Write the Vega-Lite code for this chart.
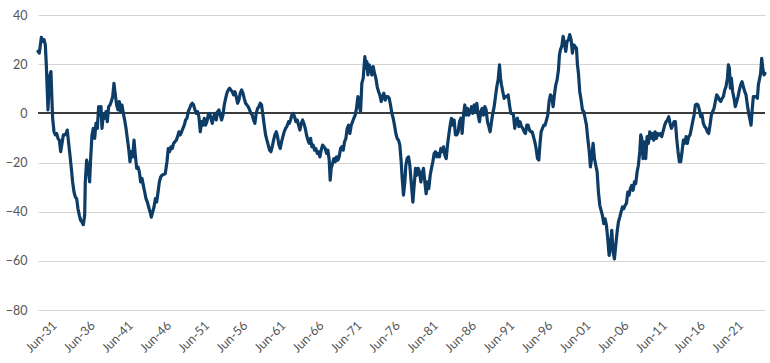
{
  "$schema": "https://vega.github.io/schema/vega-lite/v6.json",
  "autosize": {"type": "none"},
  "padding": {"left": 38, "top": 15, "right": 5, "bottom": 53},
  "width": 727,
  "height": 295,
  "background": "white",
  "config": {
    "view": {"stroke": null},
    "font": "Lato",
    "axis": {"labelFont": "Lato", "labelFontSize": 12.5, "labelFontWeight": "normal", "labelColor": "#555555", "domain": false, "ticks": false, "title": null}
  },
  "data": {"values": [
    {"t":1929.36,"v":25.2},{"t":1929.53,"v":24.5},{"t":1929.80,"v":30.9},{"t":1929.97,"v":29.3},{"t":1930.15,"v":30},{"t":1930.32,"v":27.9},{"t":1930.45,"v":19.7},{"t":1930.58,"v":8.8},{"t":1930.67,"v":1.4},{"t":1930.80,"v":10.2},{"t":1930.93,"v":15.6},{"t":1931.06,"v":17},{"t":1931.15,"v":8.8},{"t":1931.28,"v":-2},{"t":1931.46,"v":-7.5},{"t":1931.63,"v":-8.8},{"t":1931.81,"v":-8.2},{"t":1931.98,"v":-10.2},{"t":1932.16,"v":-10.9},{"t":1932.33,"v":-15.6},{"t":1932.51,"v":-12.2},{"t":1932.68,"v":-8.8},{"t":1932.85,"v":-8.8},{"t":1933.03,"v":-8.2},{"t":1933.20,"v":-6.8},{"t":1933.38,"v":-12.2},{"t":1933.55,"v":-17},{"t":1933.73,"v":-22.4},{"t":1933.90,"v":-27.9},{"t":1934.08,"v":-32},{"t":1934.25,"v":-34},{"t":1934.43,"v":-34.7},{"t":1934.60,"v":-38.8},{"t":1934.78,"v":-41.5},{"t":1934.95,"v":-43.5},{"t":1935.13,"v":-44.2},{"t":1935.30,"v":-45.3},{"t":1935.48,"v":-41.5},{"t":1935.56,"v":-27.9},{"t":1935.74,"v":-19},{"t":1935.87,"v":-21.1},{"t":1936.00,"v":-23.8},{"t":1936.13,"v":-27.9},{"t":1936.26,"v":-18.4},{"t":1936.44,"v":-8.8},{"t":1936.61,"v":-6.1},{"t":1936.79,"v":-10.2},{"t":1936.96,"v":-4.1},{"t":1937.14,"v":-6.1},{"t":1937.31,"v":2.7},{"t":1937.44,"v":-0.7},{"t":1937.62,"v":2.7},{"t":1937.75,"v":-6.1},{"t":1937.92,"v":-0.7},{"t":1938.10,"v":-2},{"t":1938.27,"v":0.7},{"t":1938.45,"v":-3.4},{"t":1938.62,"v":2.7},{"t":1938.80,"v":3.4},{"t":1938.97,"v":4.8},{"t":1939.15,"v":6.8},{"t":1939.32,"v":12.2},{"t":1939.50,"v":7.5},{"t":1939.67,"v":3.4},{"t":1939.85,"v":1.4},{"t":1940.02,"v":4.8},{"t":1940.20,"v":0.7},{"t":1940.37,"v":3.4},{"t":1940.55,"v":0},{"t":1940.72,"v":-2.7},{"t":1940.90,"v":-6.1},{"t":1941.07,"v":-10.2},{"t":1941.25,"v":-14.3},{"t":1941.42,"v":-19.7},{"t":1941.60,"v":-15.6},{"t":1941.77,"v":-17.7},{"t":1941.95,"v":-10.9},{"t":1942.12,"v":-17},{"t":1942.30,"v":-22.4},{"t":1942.47,"v":-21.8},{"t":1942.65,"v":-23.8},{"t":1942.82,"v":-27.9},{"t":1943.00,"v":-26.5},{"t":1943.17,"v":-29.3},{"t":1943.35,"v":-32},{"t":1943.52,"v":-34.7},{"t":1943.70,"v":-36.1},{"t":1943.87,"v":-38.1},{"t":1944.05,"v":-40.1},{"t":1944.22,"v":-42.2},{"t":1944.40,"v":-40.1},{"t":1944.57,"v":-38.1},{"t":1944.75,"v":-34.7},{"t":1944.92,"v":-36.1},{"t":1945.10,"v":-32},{"t":1945.27,"v":-27.9},{"t":1945.45,"v":-25.9},
    {"t":1945.61,"v":-25.2},{"t":1946.05,"v":-24.5},{"t":1946.27,"v":-19.7},{"t":1946.44,"v":-14.3},{"t":1946.62,"v":-15.6},{"t":1946.79,"v":-13.6},{"t":1946.96,"v":-14.3},{"t":1947.14,"v":-12.2},{"t":1947.31,"v":-11.6},{"t":1947.49,"v":-10.9},{"t":1947.66,"v":-9.5},{"t":1947.84,"v":-7.5},{"t":1948.01,"v":-8.8},{"t":1948.19,"v":-7.5},{"t":1948.36,"v":-6.1},{"t":1948.54,"v":-4.8},{"t":1948.71,"v":-2.7},{"t":1948.89,"v":-2},{"t":1949.06,"v":0.7},{"t":1949.24,"v":2},{"t":1949.41,"v":3.4},{"t":1949.59,"v":4.1},{"t":1949.76,"v":3.4},{"t":1949.94,"v":1.4},{"t":1950.11,"v":0},{"t":1950.29,"v":0.7},{"t":1950.46,"v":-1.4},{"t":1950.64,"v":-7.5},{"t":1950.81,"v":-3.4},{"t":1950.98,"v":-4.8},{"t":1951.16,"v":-2},{"t":1951.33,"v":-4.8},{"t":1951.51,"v":-3.4},{"t":1951.68,"v":-0.7},{"t":1951.86,"v":0},{"t":1952.03,"v":-2},{"t":1952.21,"v":-4.1},{"t":1952.38,"v":-1.4},{"t":1952.56,"v":0},{"t":1952.73,"v":-2.7},{"t":1952.91,"v":0.7},{"t":1953.08,"v":1.4},{"t":1953.26,"v":-0.7},{"t":1953.43,"v":-2.7},{"t":1953.61,"v":-0.7},{"t":1953.78,"v":3.4},{"t":1953.96,"v":6.1},{"t":1954.13,"v":8.2},{"t":1954.30,"v":9.5},{"t":1954.48,"v":10.2},{"t":1954.65,"v":9.5},{"t":1954.83,"v":8.8},{"t":1955.00,"v":7.5},{"t":1955.18,"v":8.8},{"t":1955.35,"v":6.8},{"t":1955.53,"v":4.1},{"t":1955.70,"v":5.4},{"t":1955.88,"v":8.2},{"t":1956.05,"v":9.5},{"t":1956.23,"v":8.2},{"t":1956.40,"v":6.1},{"t":1956.58,"v":4.1},{"t":1956.75,"v":3.4},{"t":1956.93,"v":2.7},{"t":1957.10,"v":1.4},{"t":1957.28,"v":0},{"t":1957.45,"v":-0.7},{"t":1957.62,"v":-2.7},{"t":1957.80,"v":-4.1},{"t":1957.97,"v":0},{"t":1958.15,"v":2},{"t":1958.32,"v":2.7},{"t":1958.50,"v":4.1},{"t":1958.67,"v":3.4},{"t":1958.85,"v":-0.7},{"t":1959.02,"v":-4.8},{"t":1959.20,"v":-8.8},{"t":1959.37,"v":-10.9},{"t":1959.55,"v":-12.9},{"t":1959.72,"v":-15},{"t":1959.90,"v":-15.6},{"t":1960.07,"v":-13.6},{"t":1960.25,"v":-10.9},{"t":1960.42,"v":-8.8},{"t":1960.60,"v":-7.5},{"t":1960.77,"v":-9.5},{"t":1960.95,"v":-12.9},{"t":1961.12,"v":-14.3},{"t":1961.29,"v":-11.6},{"t":1961.47,"v":-9.5},{"t":1961.64,"v":-7.5},{"t":1961.82,"v":-6.1},{"t":1961.99,"v":-5.4},{"t":1962.21,"v":-3.4},
    {"t":1962.30,"v":-4.1},{"t":1962.47,"v":-2.7},{"t":1962.65,"v":-0.7},{"t":1962.82,"v":0},{"t":1963.00,"v":-1.4},{"t":1963.17,"v":-3.4},{"t":1963.35,"v":-2.7},{"t":1963.52,"v":-4.8},{"t":1963.70,"v":-6.8},{"t":1963.87,"v":-4.1},{"t":1964.05,"v":-2.7},{"t":1964.22,"v":-4.1},{"t":1964.40,"v":-6.1},{"t":1964.57,"v":-8.8},{"t":1964.75,"v":-10.9},{"t":1964.92,"v":-12.2},{"t":1965.10,"v":-10.2},{"t":1965.27,"v":-13.6},{"t":1965.44,"v":-12.9},{"t":1965.62,"v":-15},{"t":1965.79,"v":-14.3},{"t":1965.97,"v":-16.3},{"t":1966.14,"v":-15.6},{"t":1966.32,"v":-17.7},{"t":1966.49,"v":-15},{"t":1966.67,"v":-12.9},{"t":1966.84,"v":-13.6},{"t":1967.02,"v":-14.3},{"t":1967.19,"v":-16.3},{"t":1967.37,"v":-15},{"t":1967.54,"v":-19},{"t":1967.67,"v":-27.2},{"t":1967.80,"v":-22.4},{"t":1967.98,"v":-20.4},{"t":1968.15,"v":-18.4},{"t":1968.33,"v":-19.7},{"t":1968.50,"v":-17.7},{"t":1968.68,"v":-19},{"t":1968.85,"v":-17.7},{"t":1969.03,"v":-14.3},{"t":1969.20,"v":-13.6},{"t":1969.38,"v":-15},{"t":1969.55,"v":-11.6},{"t":1969.73,"v":-10.2},{"t":1969.90,"v":-6.1},{"t":1970.08,"v":-4.8},{"t":1970.25,"v":-8.2},{"t":1970.43,"v":-4.8},{"t":1970.60,"v":-3.4},{"t":1970.77,"v":-2},{"t":1970.95,"v":-0.7},{"t":1971.12,"v":2},{"t":1971.30,"v":6.8},{"t":1971.47,"v":3.4},{"t":1971.65,"v":0.7},{"t":1971.82,"v":12.2},{"t":1972.00,"v":14.3},{"t":1972.13,"v":19.7},{"t":1972.22,"v":23.1},{"t":1972.35,"v":18.4},{"t":1972.48,"v":21.1},{"t":1972.61,"v":15.6},{"t":1972.78,"v":19.7},{"t":1972.96,"v":18.4},{"t":1973.13,"v":15.6},{"t":1973.31,"v":19},{"t":1973.48,"v":16.3},{"t":1973.66,"v":14.3},{"t":1973.83,"v":10.9},{"t":1974.01,"v":8.8},{"t":1974.18,"v":7.5},{"t":1974.36,"v":4.8},{"t":1974.53,"v":6.8},{"t":1974.71,"v":8.2},{"t":1974.88,"v":5.4},{"t":1975.06,"v":6.8},{"t":1975.23,"v":6.8},{"t":1975.41,"v":6.1},{"t":1975.58,"v":3.4},{"t":1975.76,"v":0},{"t":1975.93,"v":-2},{"t":1976.10,"v":-4.8},{"t":1976.28,"v":-8.2},{"t":1976.45,"v":-10.2},{"t":1976.63,"v":-10.9},{"t":1976.80,"v":-12.9},{"t":1976.98,"v":-19.7},{"t":1977.11,"v":-26.5},{"t":1977.28,"v":-33.3},{"t":1977.46,"v":-27.9},{"t":1977.59,"v":-21.1},{"t":1977.76,"v":-18.4},{"t":1977.94,"v":-17.7},{"t":1978.11,"v":-21.1},{"t":1978.29,"v":-27.9},
    {"t":1978.51,"v":-36.1},{"t":1978.68,"v":-29.3},{"t":1978.86,"v":-22.4},{"t":1979.03,"v":-25.2},{"t":1979.21,"v":-22.4},{"t":1979.38,"v":-23.8},{"t":1979.56,"v":-27.9},{"t":1979.73,"v":-24.5},{"t":1979.90,"v":-22.4},{"t":1980.08,"v":-27.9},{"t":1980.25,"v":-32.7},{"t":1980.43,"v":-27.9},{"t":1980.60,"v":-30.6},{"t":1980.78,"v":-25.2},{"t":1980.95,"v":-22.4},{"t":1981.13,"v":-19.7},{"t":1981.30,"v":-16.3},{"t":1981.48,"v":-15.6},{"t":1981.65,"v":-17.7},{"t":1981.83,"v":-16.3},{"t":1982.00,"v":-17.7},{"t":1982.18,"v":-14.3},{"t":1982.35,"v":-15.6},{"t":1982.53,"v":-13.6},{"t":1982.70,"v":-17},{"t":1982.88,"v":-18.4},{"t":1983.05,"v":-12.9},{"t":1983.22,"v":-8.8},{"t":1983.40,"v":-4.8},{"t":1983.57,"v":-2},{"t":1983.75,"v":-4.8},{"t":1983.92,"v":-2.7},{"t":1984.10,"v":-8.8},{"t":1984.27,"v":-8.8},{"t":1984.45,"v":-7.5},{"t":1984.62,"v":-3.4},{"t":1984.80,"v":-2},{"t":1984.97,"v":-8.2},{"t":1985.15,"v":-0.7},{"t":1985.32,"v":3.4},{"t":1985.50,"v":-0.7},{"t":1985.67,"v":2},{"t":1985.85,"v":-0.7},{"t":1986.02,"v":0.7},{"t":1986.20,"v":2.7},{"t":1986.37,"v":0},{"t":1986.55,"v":3.4},{"t":1986.72,"v":0.7},{"t":1986.89,"v":4.1},{"t":1987.07,"v":-0.7},{"t":1987.24,"v":-3.4},{"t":1987.42,"v":0.7},{"t":1987.59,"v":2},{"t":1987.77,"v":-0.7},{"t":1987.94,"v":2.7},{"t":1988.12,"v":1.4},{"t":1988.29,"v":-3.4},{"t":1988.47,"v":-5.4},{"t":1988.64,"v":-7.5},{"t":1988.82,"v":-3.4},{"t":1988.99,"v":0},{"t":1989.17,"v":2.7},{"t":1989.34,"v":6.8},{"t":1989.52,"v":10.9},{"t":1989.69,"v":13.6},{"t":1989.87,"v":19.7},{"t":1990.00,"v":14.3},{"t":1990.13,"v":11.6},{"t":1990.30,"v":8.8},{"t":1990.48,"v":6.1},{"t":1990.65,"v":6.8},{"t":1990.83,"v":6.8},{"t":1991.00,"v":7.5},{"t":1991.18,"v":3.4},{"t":1991.35,"v":0},{"t":1991.53,"v":0},{"t":1991.70,"v":-0.7},{"t":1991.87,"v":-6.1},{"t":1992.05,"v":-2.7},{"t":1992.22,"v":-2},{"t":1992.40,"v":-5.4},{"t":1992.57,"v":-3.4},{"t":1992.75,"v":-5.4},{"t":1992.92,"v":-6.1},{"t":1993.10,"v":-7.5},{"t":1993.27,"v":-8.2},{"t":1993.45,"v":-4.8},{"t":1993.62,"v":-4.8},{"t":1993.80,"v":-6.8},{"t":1993.97,"v":-7.5},{"t":1994.15,"v":-7.5},{"t":1994.32,"v":-9.5},{"t":1994.50,"v":-11.6},{"t":1994.67,"v":-14.3},{"t":1994.85,"v":-18.4},{"t":1995.02,"v":-19},{"t":1995.20,"v":-11.6},
    {"t":1995.33,"v":-7.5},{"t":1995.50,"v":-6.1},{"t":1995.68,"v":-4.8},{"t":1995.85,"v":-4.8},{"t":1996.03,"v":-2.7},{"t":1996.20,"v":-0.7},{"t":1996.37,"v":4.8},{"t":1996.55,"v":7.5},{"t":1996.72,"v":6.8},{"t":1996.90,"v":2.7},{"t":1997.07,"v":7.5},{"t":1997.25,"v":11.6},{"t":1997.42,"v":13.6},{"t":1997.60,"v":17.7},{"t":1997.73,"v":23.8},{"t":1997.86,"v":25.9},{"t":1998.03,"v":27.2},{"t":1998.21,"v":31.3},{"t":1998.38,"v":28.6},{"t":1998.56,"v":25.2},{"t":1998.73,"v":29.3},{"t":1998.91,"v":29.9},{"t":1999.08,"v":32},{"t":1999.26,"v":29.9},{"t":1999.43,"v":24.5},{"t":1999.61,"v":27.9},{"t":1999.78,"v":27.2},{"t":1999.96,"v":26.5},{"t":2000.09,"v":19.7},{"t":2000.22,"v":16.3},{"t":2000.39,"v":8.8},{"t":2000.57,"v":5.4},{"t":2000.74,"v":1.4},{"t":2000.92,"v":0.7},{"t":2001.09,"v":-2},{"t":2001.27,"v":-4.8},{"t":2001.44,"v":-10.2},{"t":2001.62,"v":-15},{"t":2001.79,"v":-21.8},{"t":2001.97,"v":-17.7},{"t":2002.14,"v":-12.2},{"t":2002.32,"v":-18.4},{"t":2002.49,"v":-21.1},{"t":2002.67,"v":-23.8},{"t":2002.84,"v":-32},{"t":2003.02,"v":-37.4},{"t":2003.19,"v":-39.5},{"t":2003.36,"v":-41.5},{"t":2003.54,"v":-44.9},{"t":2003.71,"v":-42.9},{"t":2003.89,"v":-45.6},{"t":2004.06,"v":-51},{"t":2004.24,"v":-57.8},{"t":2004.41,"v":-53.7},{"t":2004.59,"v":-47.6},{"t":2004.76,"v":-56.5},{"t":2004.94,"v":-59.2},{"t":2005.11,"v":-53.7},{"t":2005.29,"v":-48.3},{"t":2005.46,"v":-44.2},{"t":2005.64,"v":-42.2},{"t":2005.81,"v":-40.1},{"t":2005.99,"v":-38.1},{"t":2006.16,"v":-38.8},{"t":2006.34,"v":-37.4},{"t":2006.51,"v":-36.7},{"t":2006.69,"v":-32},{"t":2006.86,"v":-33.3},{"t":2007.03,"v":-30.6},{"t":2007.21,"v":-29.3},{"t":2007.38,"v":-31.3},{"t":2007.56,"v":-27.9},{"t":2007.73,"v":-28.6},{"t":2007.91,"v":-23.8},{"t":2008.08,"v":-21.1},{"t":2008.26,"v":-15.6},{"t":2008.39,"v":-8.8},{"t":2008.52,"v":-10.2},{"t":2008.69,"v":-18.4},{"t":2008.87,"v":-11.6},{"t":2009.04,"v":-18.4},{"t":2009.22,"v":-9.5},{"t":2009.39,"v":-12.2},{"t":2009.57,"v":-7.5},{"t":2009.74,"v":-10.2},{"t":2009.92,"v":-8.2},{"t":2010.09,"v":-10.9},{"t":2010.27,"v":-7.5},{"t":2010.44,"v":-10.2},{"t":2010.62,"v":-8.2},{"t":2010.79,"v":-8.8},{"t":2010.97,"v":-8.2},{"t":2011.14,"v":-9.5},
    {"t":2011.53,"v":-4.8},{"t":2011.71,"v":-3.4},{"t":2011.88,"v":-2.7},{"t":2012.06,"v":-1.4},{"t":2012.23,"v":-4.1},{"t":2012.41,"v":-6.1},{"t":2012.58,"v":-4.8},{"t":2012.76,"v":-3.4},{"t":2012.93,"v":-3.4},{"t":2013.10,"v":-10.2},{"t":2013.28,"v":-15.6},{"t":2013.45,"v":-19.7},{"t":2013.63,"v":-19.7},{"t":2013.80,"v":-15.6},{"t":2013.98,"v":-10.9},{"t":2014.15,"v":-12.2},{"t":2014.33,"v":-9.5},{"t":2014.50,"v":-12.2},{"t":2014.68,"v":-9.5},{"t":2014.85,"v":-8.8},{"t":2015.03,"v":-6.1},{"t":2015.20,"v":-3.4},{"t":2015.38,"v":-0.7},{"t":2015.55,"v":3.4},{"t":2015.73,"v":3.7},{"t":2015.90,"v":3.4},{"t":2016.08,"v":1.4},{"t":2016.25,"v":-1.4},{"t":2016.43,"v":-0.7},{"t":2016.60,"v":-4.1},{"t":2016.77,"v":-5.4},{"t":2016.95,"v":-6.1},{"t":2017.12,"v":-7.5},{"t":2017.30,"v":-8.2},{"t":2017.47,"v":-4.8},{"t":2017.65,"v":-0.7},{"t":2017.82,"v":0.7},{"t":2018.00,"v":2},{"t":2018.17,"v":4.8},{"t":2018.35,"v":7.5},{"t":2018.52,"v":6.8},{"t":2018.70,"v":5.4},{"t":2018.87,"v":4.8},{"t":2019.05,"v":6.1},{"t":2019.22,"v":6.8},{"t":2019.40,"v":9.5},{"t":2019.57,"v":10.9},{"t":2019.75,"v":14.3},{"t":2019.88,"v":19.7},{"t":2020.01,"v":18.4},{"t":2020.14,"v":10.2},{"t":2020.27,"v":14.3},{"t":2020.44,"v":8.8},{"t":2020.62,"v":6.1},{"t":2020.79,"v":2.7},{"t":2020.97,"v":4.8},{"t":2021.14,"v":6.8},{"t":2021.32,"v":9.5},{"t":2021.49,"v":11.6},{"t":2021.67,"v":12.9},{"t":2021.84,"v":10.9},{"t":2022.02,"v":8.8},{"t":2022.19,"v":7.5},{"t":2022.37,"v":3.4},{"t":2022.54,"v":0},{"t":2022.72,"v":-2.7},{"t":2022.85,"v":-4.8},{"t":2022.98,"v":0.7},{"t":2023.15,"v":6.8},{"t":2023.33,"v":6.8},{"t":2023.50,"v":6.8},{"t":2023.68,"v":6.1},{"t":2023.81,"v":11.6},{"t":2023.94,"v":13.6},{"t":2024.11,"v":16.3},{"t":2024.25,"v":22.4},{"t":2024.38,"v":18.4},{"t":2024.55,"v":15.6},{"t":2024.68,"v":16.3}
  ]},
  "layer": [
    {
      "mark": {"type": "rule", "color": "#3d3d3d", "strokeWidth": 1.2},
      "encoding": {"y": {"datum": 0, "type": "quantitative", "scale": {"domain": [-80, 40], "nice": false}}}
    },
    {
      "mark": {"type": "line", "color": "#0d3d67", "strokeWidth": 3.2, "strokeJoin": "round", "strokeCap": "round"},
      "encoding": {
        "x": {
          "field": "t", "type": "quantitative",
          "scale": {"domain": [1929.36, 2024.68], "nice": false, "zero": false},
          "axis": {
            "values": [1931.5, 1936.5, 1941.5, 1946.5, 1951.5, 1956.5, 1961.5, 1966.5, 1971.5, 1976.5, 1981.5, 1986.5, 1991.5, 1996.5, 2001.5, 2006.5, 2011.5, 2016.5, 2021.5],
            "labelExpr": "'Jun-' + slice('0' + (floor(datum.value) % 100), -2)",
            "labelAngle": -45, "labelAlign": "right", "labelBaseline": "middle",
            "labelPadding": 13, "grid": false, "labelOverlap": false, "labelBound": false, "labelFlush": false
          }
        },
        "y": {
          "field": "v", "type": "quantitative",
          "scale": {"domain": [-80, 40], "nice": false},
          "axis": {
            "values": [-80, -60, -40, -20, 0, 20, 40],
            "grid": true, "gridColor": "#d4d4d4", "gridWidth": 1,
            "labelPadding": 11
          }
        }
      }
    }
  ]
}
